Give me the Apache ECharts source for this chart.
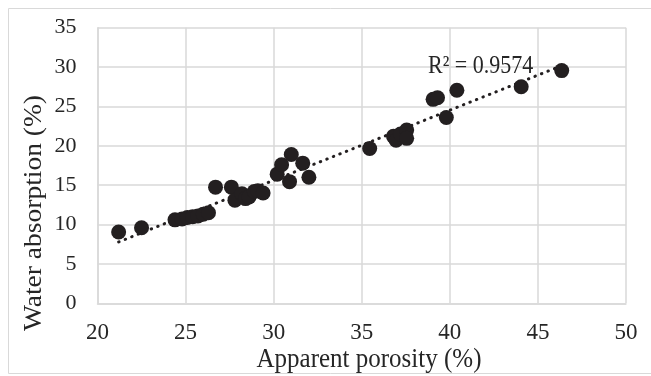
<!DOCTYPE html>
<html><head><meta charset="utf-8">
<script src="https://cdn.jsdelivr.net/npm/echarts@6/dist/echarts.min.js"></script>
<style>html,body{margin:0;padding:0;background:#fff}#c{width:651px;height:376px}</style>
</head><body><div id="c"></div>
<script>
var porosity = [21.2,22.5,24.4,24.8,25.1,25.4,25.7,26.0,26.3,26.7,27.6,27.8,28.2,28.4,28.6,28.9,29.1,29.4,30.2,30.45,31.0,30.9,31.65,32.0,35.45,36.8,36.95,37.2,37.55,37.55,39.05,39.3,40.4,39.8,44.05,46.35];
var absorption = [9.05,9.6,10.6,10.7,10.9,11.0,11.1,11.3,11.5,14.75,14.75,13.1,13.9,13.3,13.5,14.2,14.3,14.0,16.4,17.6,18.9,15.45,17.8,16.0,19.65,21.2,20.7,21.5,22.0,20.95,25.9,26.1,27.05,23.6,27.5,29.55];
var xTicks = [20,25,30,35,40,45,50];
var yTicks = [0,5,10,15,20,25,30,35];
var xTitle = 'Apparent porosity (%)';
var yTitle = 'Water absorption (%)';
var r2Label = 'R² = 0.9574';

var pts = porosity.map(function(x,i){return [x, absorption[i]];});
// least squares trendline
var n = pts.length, sx=0, sy=0, sxx=0, sxy=0;
pts.forEach(function(p){sx+=p[0];sy+=p[1];sxx+=p[0]*p[0];sxy+=p[0]*p[1];});
var slope = (n*sxy - sx*sy)/(n*sxx - sx*sx);
var icpt = (sy - slope*sx)/n;
var xmin = Math.min.apply(null, porosity), xmax = Math.max.apply(null, porosity);
var trend = [[xmin, icpt+slope*xmin],[xmax, icpt+slope*xmax]];

var font = '"Liberation Serif","Times New Roman",serif';
var txt = '#262626';
var chart = echarts.init(document.getElementById('c'));
chart.setOption({
  animation:false,
  grid:{left:97.5,right:25,top:27.7,bottom:72.7},
  graphic:[
    {type:'rect',shape:{x:8.5,y:8.5,width:660,height:365},style:{fill:'none',stroke:'#d9d9d9',lineWidth:1},silent:true},
    {type:'text',x:428,y:67,scaleY:1.1,style:{text:r2Label,font:'22px '+font,fill:txt,verticalAlign:'middle',align:'left'},z:10},
    {type:'text',x:369,y:360,scaleY:1.1,style:{text:xTitle,font:'25px '+font,fill:txt,verticalAlign:'middle',align:'center'},z:10},
    {type:'text',x:34,y:213,rotation:Math.PI/2,scaleX:1.1,style:{text:yTitle,font:'25px '+font,fill:txt,verticalAlign:'middle',align:'center'},z:10}
  ],
  xAxis:{type:'value',min:20,max:50,interval:5,
    axisLine:{show:true,lineStyle:{color:'#d9d9d9',width:1.5}},
    axisTick:{show:false},
    axisLabel:{fontFamily:font,fontSize:23,color:txt,margin:18,
      formatter:function(v){return xTicks.indexOf(v)>=0?String(v):'';}},
    splitLine:{show:true,lineStyle:{color:'#d9d9d9',width:1.5}}},
  yAxis:{type:'value',min:0,max:35,interval:5,
    axisLine:{show:true,lineStyle:{color:'#d9d9d9',width:1.5}},
    axisTick:{show:false},
    axisLabel:{fontFamily:font,fontSize:22,color:txt,margin:21,
      formatter:function(v){return yTicks.indexOf(v)>=0?String(v):'';}},
    splitLine:{show:true,lineStyle:{color:'#d9d9d9',width:1.5}}},
  series:[
    {type:'line',data:trend,symbol:'none',z:3,
      lineStyle:{color:'#231f20',width:3,type:[0.5,6.5],cap:'round'}},
    {type:'scatter',data:pts,symbol:'circle',symbolSize:15,z:4,
      itemStyle:{color:'#231f20',opacity:1}}
  ]
});
</script></body></html>
